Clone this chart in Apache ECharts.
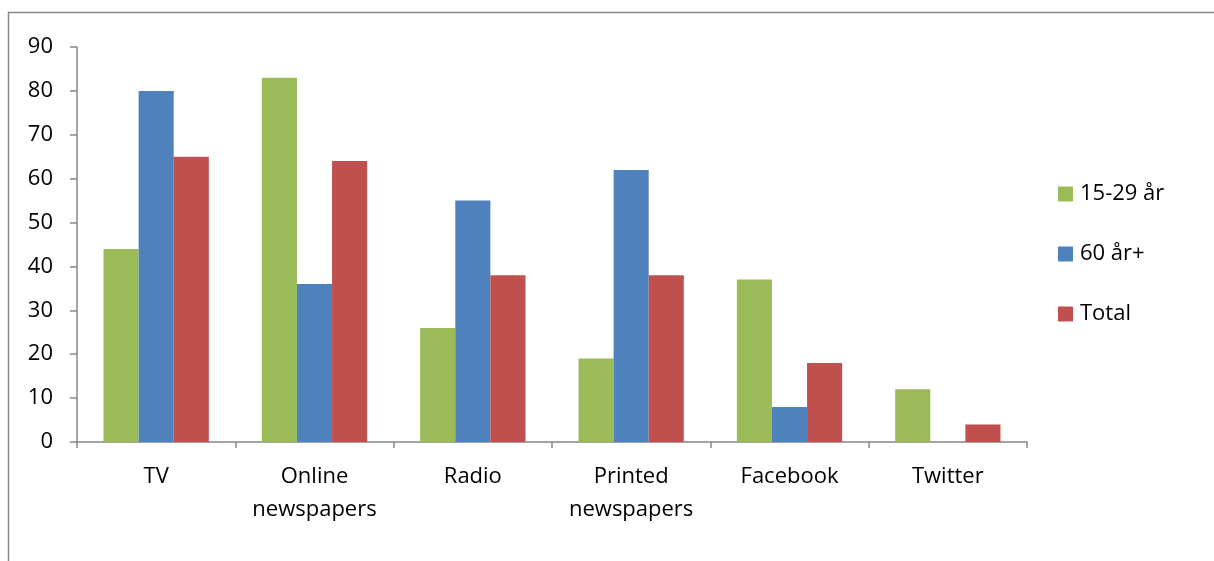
<!DOCTYPE html>
<html><head><meta charset="utf-8">
<script src="https://cdn.jsdelivr.net/npm/echarts@6/dist/echarts.min.js"></script>
<style>html,body{margin:0;padding:0;background:#fff}#c{width:1214px;height:561px}</style>
</head><body><div id="c"></div>
<script>
const categories = ['TV', 'Online\nnewspapers', 'Radio', 'Printed\nnewspapers', 'Facebook', 'Twitter'];
const seriesNames = ['15-29 år', '60 år+', 'Total'];
const young = [44, 83, 26, 19, 37, 12];
const old = [80, 36, 55, 62, 8, 0];
const total = [65, 64, 38, 38, 18, 4];
const colors = ['#9BBB59', '#4F81BD', '#C0504D'];
const FONT = '"Open Sans", "Liberation Sans", sans-serif';
const chart = echarts.init(document.getElementById('c'));
const data = [young, old, total];
chart.setOption({
  animation: false,
  backgroundColor: '#fff',
  graphic: [{type: 'rect', shape: {x: 8.5, y: 12.5, width: 1300, height: 700},
    style: {fill: 'none', stroke: '#868686', lineWidth: 1.5}}],
  grid: {left: 77, right: 187, top: 47, bottom: 119},
  legend: {orient: 'vertical', left: 1058, top: 183, padding: 0, itemWidth: 15, itemHeight: 15, itemGap: 38,
    icon: 'rect', textStyle: {fontFamily: FONT, fontSize: 22, color: '#000', padding: [0, 0, 0, 2]},
    data: seriesNames},
  xAxis: {type: 'category', data: categories,
    axisLine: {lineStyle: {color: '#868686', width: 1.5}},
    axisTick: {show: true, length: 6, lineStyle: {color: '#868686', width: 1.5}},
    axisLabel: {interval: 0, fontFamily: FONT, fontSize: 22, color: '#000', margin: 18, lineHeight: 33}},
  yAxis: {type: 'value', min: 0, max: 90, interval: 10,
    axisLine: {show: true, lineStyle: {color: '#868686', width: 1.5}},
    axisTick: {show: true, length: 7, lineStyle: {color: '#868686', width: 1.5}},
    splitLine: {show: false},
    axisLabel: {fontFamily: FONT, fontSize: 22, color: '#000', margin: 24}},
  series: seriesNames.map((n, i) => ({
    name: n, type: 'bar', data: data[i], barGap: '0%', barCategoryGap: '33.5%',
    itemStyle: {color: colors[i]}
  }))
});
</script></body></html>
